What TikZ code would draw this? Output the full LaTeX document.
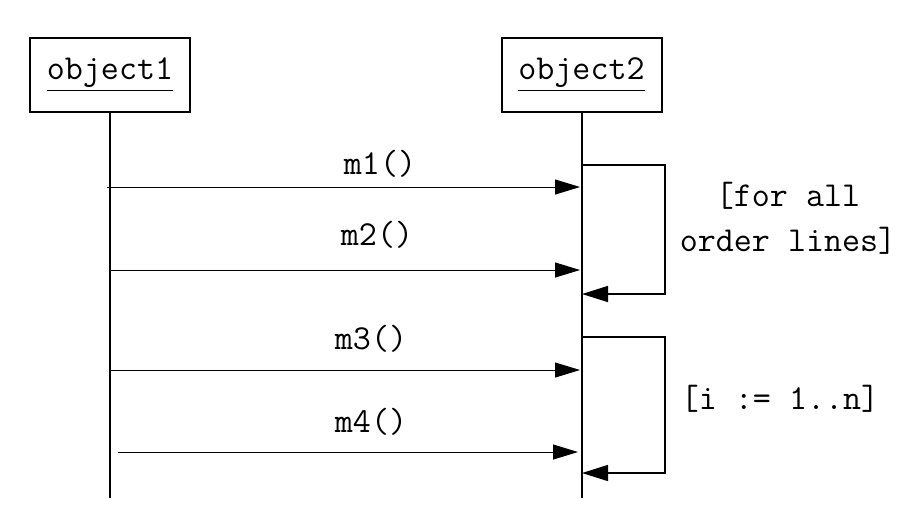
\documentclass[tikz,border=0pt]{standalone}
\usepackage{tikz}
\usetikzlibrary{arrows.meta}

\begin{document}
\begin{tikzpicture}[x=0.5pt, y=-0.5pt]
	\tikzstyle{every node} = [font=\ttfamily\fontsize{17.5}{22.5}\selectfont]
	\tikzstyle{object}     = [rectangle, draw, line width=1pt, minimum width=80pt, minimum height=37pt, inner sep=0pt]
	\tikzstyle{lifeline}   = [line width=1pt]
	\tikzstyle{msg}        = [line width=0.5pt, -{Triangle[length=12.5pt, width=7.5pt]}]
	\tikzstyle{loopback}   = [line width=0.75pt, -{Triangle[length=13pt, width=8pt]}]
	\useasboundingbox (0,0) rectangle (897,511);
	% objects and lifelines
	\node[object] (obj1) at (110,75) {\underline{object1}};
	\node[object] (obj2) at (581.5,75) {\underline{object2}};
	\coordinate (end1) at (110,498);
	\coordinate (end2) at (581.5,498);
	\draw[lifeline] (obj1) -- (end1);
	\draw[lifeline] (obj2) -- (end2);
	% messages
	\node (m1) at (380,164) {m1()};
	\coordinate (s1) at (107,187);
	\coordinate (t1) at (580,187);
	\draw[msg] (s1) -- (t1);
	\node (m2) at (377,235) {m2()};
	\coordinate (s2) at (110,270);
	\coordinate (t2) at (580,270);
	\draw[msg] (s2) -- (t2);
	\node (m3) at (371,339) {m3()};
	\coordinate (s3) at (110,370);
	\coordinate (t3) at (580,370);
	\draw[msg] (s3) -- (t3);
	\node (m4) at (371,422) {m4()};
	\coordinate (s4) at (118,452);
	\coordinate (t4) at (578,452);
	\draw[msg] (s4) -- (t4);
	% loops
	\coordinate (l1a) at (582,165);
	\coordinate (l1b) at (665,165);
	\coordinate (l1c) at (665,294);
	\coordinate (l1d) at (582,294);
	\draw[loopback] (l1a) -- (l1b) -- (l1c) -- (l1d);
	\node[align=center] (cond1) at (788,218) {[for all\\order lines]};
	\coordinate (l2a) at (582,337);
	\coordinate (l2b) at (665,337);
	\coordinate (l2c) at (665,473);
	\coordinate (l2d) at (582,473);
	\draw[loopback] (l2a) -- (l2b) -- (l2c) -- (l2d);
	\node (cond2) at (780,399) {[i := 1..n]};
\end{tikzpicture}
\end{document}
